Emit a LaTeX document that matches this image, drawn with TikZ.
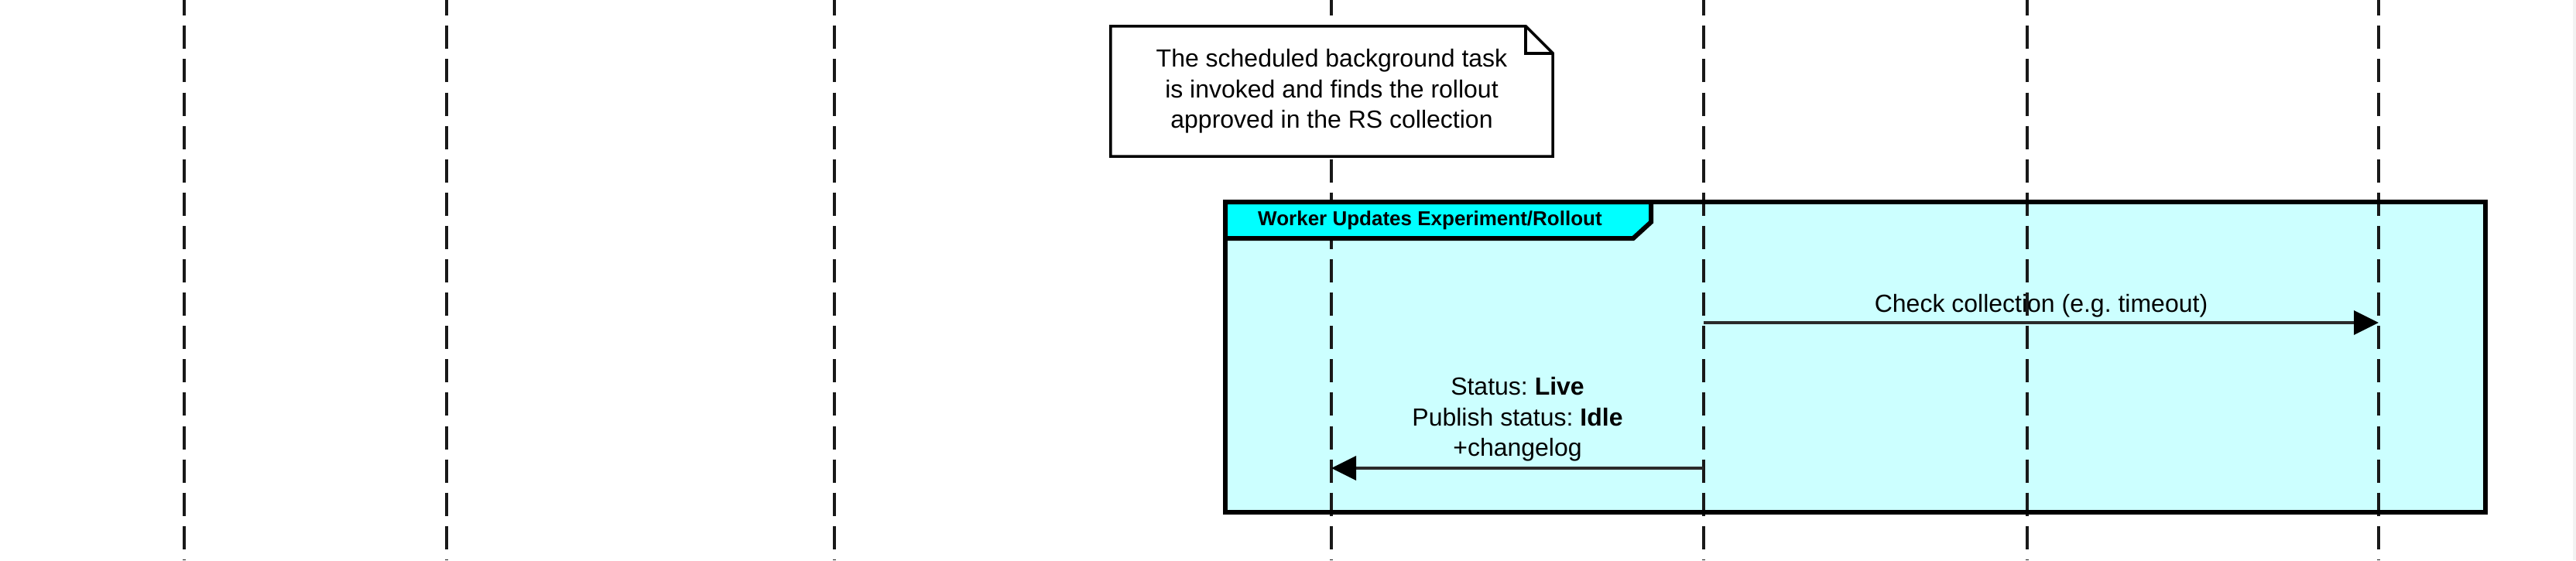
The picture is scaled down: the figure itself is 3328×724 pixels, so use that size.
\documentclass[tikz,border=0pt]{standalone}
\usepackage{fontspec}
\setmainfont{Liberation Sans}
\usetikzlibrary{arrows.meta}
\definecolor{framefill}{HTML}{CCFFFF}
\definecolor{headfill}{HTML}{00FFFF}
\definecolor{edgegray}{HTML}{F2F2F2}
\definecolor{msgline}{HTML}{2A2A2A}
\frenchspacing
\tikzset{
  lifeline/.style={line width=3.5pt, black!90, dash pattern=on 30pt off 13.1pt, dash phase=9.8pt},
  msg/.style={line width=3.5pt, msgline, -{Triangle[length=32pt,width=31pt,color=black]}},
  msgtext/.style={font=\fontsize{32}{39.5}\selectfont, align=center, inner sep=0pt, text=black},
  notebox/.style={fill=white, inner sep=0pt, minimum width=571pt, minimum height=168pt,
                  font=\fontsize{32}{39.5}\selectfont, align=center},
  noteline/.style={line width=3.5pt, black, line join=miter},
  frameline/.style={line width=6pt, black, line join=miter},
  headtext/.style={font=\bfseries\fontsize{26}{30}\selectfont, inner sep=0pt, anchor=west}
}
\begin{document}
\begin{tikzpicture}[x=1pt,y=-1pt]
\useasboundingbox (0,0) rectangle (3328,724);
\fill[edgegray] (3324,0) rectangle (3328,724);

% frame background
\coordinate (fnw) at (1583,261);
\coordinate (fse) at (3211,662);
\fill[framefill] (fnw) rectangle (fse);

% lifelines
\foreach \n/\x in {1/238,2/577,3/1078,4/1720,5/2201,6/2619,7/3073}{
  \coordinate (L\n top) at (\x,0);
  \coordinate (L\n bot) at (\x,724);
}
\foreach \n in {1,...,7}{
  \draw[lifeline] (L\n top) -- (L\n bot);
}

% messages
\coordinate (m1s) at (2201,417);
\coordinate (m1e) at (3073,417);
\draw[msg] (m1s) -- (m1e);
\node[msgtext] (m1label) at (2637,395) {Check collection (e.g. timeout)};

\coordinate (m2s) at (2201,605);
\coordinate (m2e) at (1720,605);
\draw[msg] (m2s) -- (m2e);
\node[msgtext] (m2label) at (1960.5,542) {Status: \textbf{Live}\\Publish status: \textbf{Idle}\\+changelog};

% frame border and header
\draw[frameline] (fnw) rectangle (fse);
\draw[frameline, fill=headfill] (1583,261) -- (2133,261) -- (2133,287) -- (2110,308) -- (1583,308) -- cycle;
\node[headtext] (head) at (1625,284.5) {Worker Updates Experiment/Rollout};

% note
\node[notebox] (note) at (1720.5,118) {The scheduled background task\\is invoked and finds the rollout\\approved in the RS collection};
\draw[noteline] (note.north west) -- ([xshift=-35pt]note.north east) -- ([yshift=-35pt]note.north east) -- (note.south east) -- (note.south west) -- cycle;
\draw[noteline] ([xshift=-35pt]note.north east) |- ([yshift=-35pt]note.north east);
\end{tikzpicture}
\end{document}
